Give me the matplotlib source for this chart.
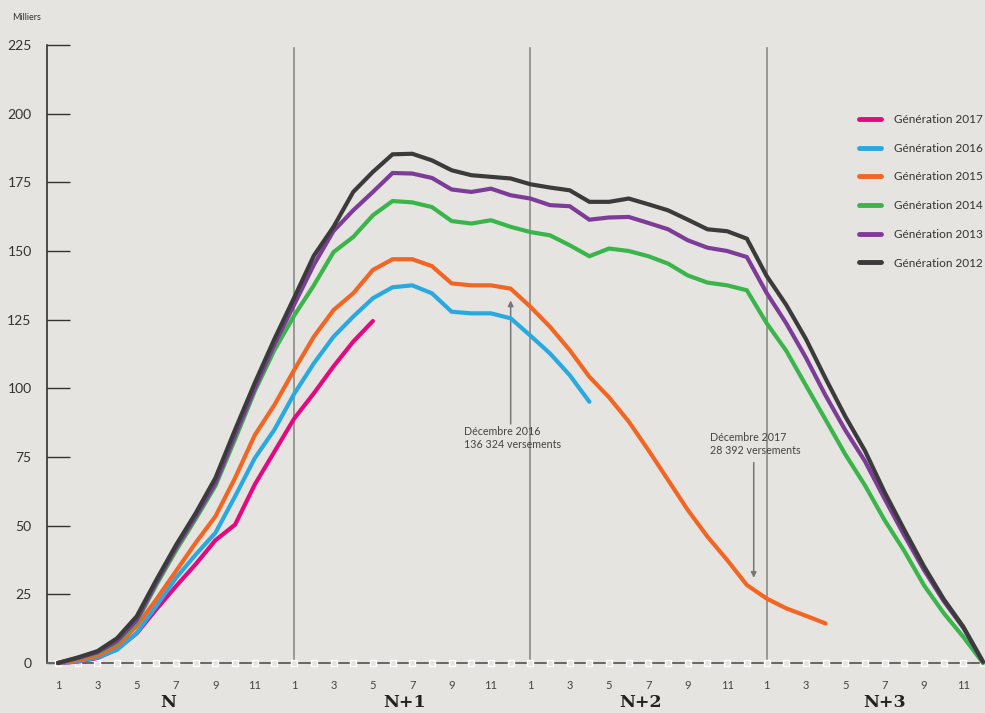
import matplotlib
matplotlib.use("Agg")
import matplotlib.pyplot as plt
from matplotlib.lines import Line2D

plt.rcParams['font.family'] = ['Lato', 'DejaVu Sans']

months = list(range(1, 49))

g2012 = [0, 2, 4.3, 9, 17, 30.3, 43, 54.6, 67.4, 85, 102, 118, 133, 148.3, 158.8, 171.5,
         178.8, 185.2, 185.4, 183, 179.4, 177.6, 177, 176.4, 174.3, 173.1, 172.1, 167.9,
         167.9, 169.1, 167, 164.8, 161.4, 157.9, 157.2, 154.5, 141, 130.4, 118, 103.6,
         89.8, 77.3, 62.2, 48.5, 35.2, 23.3, 13.2, 0.5]
g2013 = [0, 1.8, 3.9, 8, 15.7, 29.3, 42, 53.4, 65.5, 83, 100, 116, 130.5, 145, 157.3, 164.8,
         171.5, 178.4, 178.2, 176.6, 172.4, 171.5, 172.7, 170.3, 169.1, 166.7, 166.3, 161.4,
         162.2, 162.4, 160.2, 157.9, 153.9, 151.2, 150, 147.8, 134.8, 123.7, 111.2, 97.4,
         84.8, 73.5, 59.8, 46.5, 33.9, 22.6, 12.8, 0.3]
g2014 = [0, 1.7, 3.7, 7.5, 15, 28.5, 41, 52.5, 64.5, 81.5, 99, 114, 126.5, 137.5, 149.6, 155.1,
         163, 168.2, 167.7, 166, 160.9, 160, 161.2, 158.8, 156.9, 155.7, 152.1, 148.1,
         150.9, 150, 148.1, 145.4, 141.1, 138.5, 137.5, 135.7, 123.8, 113.7, 101.1, 88.6,
         76, 64.7, 52, 40.8, 28.3, 18.2, 9.5, 0]
g2015 = [0, 1, 2.7, 6.3, 13.5, 23.2, 33.5, 43.8, 53.4, 67.4, 83, 94, 106.7, 118.8, 128.5, 134.6,
         143.1, 147, 147, 144.5, 138.2, 137.5, 137.5, 136.3, 129.7, 122.4, 113.9, 104.2,
         96.7, 87.9, 77.5, 66.6, 55.7, 46, 37.5, 28.4, 23.5, 19.9, 17.2, 14.4]
g2016 = [0, 0.6, 2, 4.8, 11, 20.8, 31, 39.5, 47.4, 60.7, 74.6, 85, 98, 109.1, 118.8, 126.1,
         132.8, 136.8, 137.5, 134.6, 127.9, 127.3, 127.3, 125.5, 119.2, 112.7, 104.8, 95.1]
g2017 = [0, 0.5, 1.8, 5, 10.8, 19.6, 28, 36, 44.7, 50.4, 65, 77, 89, 98.2, 108, 117, 124.5]

series_labels = ["Génération 2017", "Génération 2016", "Génération 2015",
                 "Génération 2014", "Génération 2013", "Génération 2012"]
series_values = [g2017, g2016, g2015, g2014, g2013, g2012]
series_colors = ["#E5097F", "#29A9E0", "#F26522", "#3AB54A", "#7D3C98", "#3B3B3B"]

year_labels = ["N", "N+1", "N+2", "N+3"]
year_label_months = [6.6, 18.6, 30.6, 43.0]
year_starts = [13, 25, 37]
tick_months = list(range(1, 49, 2))
tick_labels = [str((m - 1) % 12 + 1) for m in tick_months]
yticks = list(range(0, 226, 25))

ann1_text = "Décembre 2016\n136 324 versements"
ann1_month, ann1_tip, ann1_base, ann1_text_pos = 24, 132, 87, (21.65, 86.3)
ann2_text = "Décembre 2017\n28 392 versements"
ann2_month, ann2_tip, ann2_base, ann2_text_pos = 36.35, 31, 73, (34.15, 84.0)

BG = "#E5E4E0"
fig = plt.figure(figsize=(9.85, 7.13), dpi=100, facecolor=BG)
ax = fig.add_axes([47/985, 50/713, 938/985, 618/713], facecolor=BG)

ax.set_xlim(1 - 11/19.68, 48 + 2/19.68)
ax.set_ylim(0, 225)

for m in year_starts:
    ax.plot([m, m], [0, 224], color="#8A8A8A", lw=1.2, zorder=1, clip_on=False)

# little squares on the x axis
ax.plot(months, [0]*len(months), ls='none', marker='s', ms=5, mfc=BG, mec='white',
        mew=1.0, zorder=3, clip_on=False)

for lab, vals, col in zip(series_labels, series_values, series_colors):
    ax.plot(months[:len(vals)], vals, color=col, lw=3.0, label=lab, zorder=4,
            clip_on=False, solid_capstyle='round', solid_joinstyle='miter')

for sp in ['top', 'right']:
    ax.spines[sp].set_visible(False)
ax.spines['left'].set_color('#222222')
ax.spines['left'].set_linewidth(1.1)
ax.spines['bottom'].set_color('#666666')
ax.spines['bottom'].set_linewidth(1.4)

ax.set_yticks(yticks)
ax.set_yticklabels([str(v) for v in yticks], fontsize=10, color='#333333')
ax.tick_params(axis='y', direction='in', length=16.5, width=1.0, color='#333333', pad=11)
ax.set_xticks(tick_months)
ax.set_xticklabels(tick_labels, fontsize=8, color='#444444')
ax.tick_params(axis='x', length=0, pad=12)

fig.text(12/985, 1 - 18/713, "Milliers", fontsize=6.5, color='#333333', va='center', ha='left')

for lab, m in zip(year_labels, year_label_months):
    ax.text(m, -14.3, lab, ha='center', va='center', fontsize=12.5, fontweight='bold',
            color='#222222', family=['DejaVu Serif'], clip_on=False)

ax.annotate("", xy=(ann1_month, ann1_tip), xytext=(ann1_month, ann1_base),
            arrowprops=dict(arrowstyle='-|>', color='#777777', lw=1.1,
                            mutation_scale=8, shrinkA=0, shrinkB=0), zorder=2)
ax.text(ann1_text_pos[0], ann1_text_pos[1], ann1_text, fontsize=7.7, color='#444444',
        ha='left', va='top', linespacing=1.2, zorder=5)
ax.annotate("", xy=(ann2_month, ann2_tip), xytext=(ann2_month, ann2_base),
            arrowprops=dict(arrowstyle='-|>', color='#777777', lw=1.1,
                            mutation_scale=8, shrinkA=0, shrinkB=0), zorder=2)
ax.text(ann2_text_pos[0], ann2_text_pos[1], ann2_text, fontsize=7.7, color='#444444',
        ha='left', va='top', linespacing=1.2, zorder=5)

handles = [Line2D([0], [0], color=c, lw=3.5, solid_capstyle='round') for c in series_colors]
leg = fig.legend(handles, series_labels, loc='upper left',
                 bbox_to_anchor=(859/985, 1 - 114/713), frameon=False, fontsize=8.5,
                 handlelength=1.9, handletextpad=1.1, labelspacing=1.5,
                 borderpad=0, borderaxespad=0)
for t in leg.get_texts():
    t.set_color('#333333')

fig.savefig("out.png", dpi=100, facecolor=BG)
